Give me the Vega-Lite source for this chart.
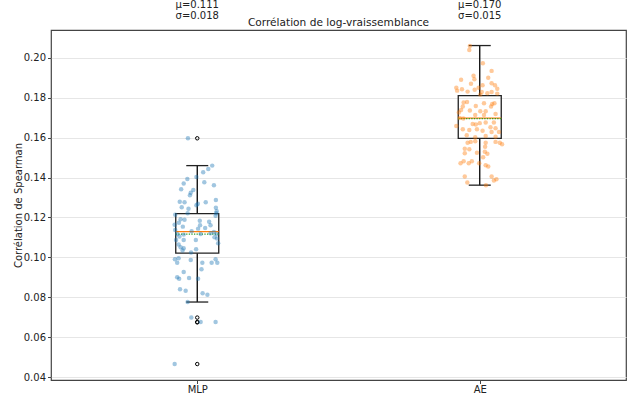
{
  "$schema": "https://vega.github.io/schema/vega-lite/v6.json",
  "width": 575,
  "height": 350,
  "autosize": "none",
  "padding": {"left": 51, "top": 30, "right": 14, "bottom": 16},
  "background": "white",
  "config": {
    "font": "DejaVu Sans",
    "view": {"stroke": "#444", "strokeWidth": 1.2},
    "axis": {
      "labelFont": "DejaVu Sans", "labelFontSize": 10, "labelColor": "#222",
      "titleFont": "DejaVu Sans", "titleFontSize": 10, "titleFontWeight": "normal", "titleColor": "#222",
      "domain": false, "tickColor": "#444", "tickSize": 3.5, "labelPadding": 2,
      "gridColor": "#e6e6e6", "gridWidth": 1
    }
  },
  "title": {"text": "Corrélation de log-vraissemblance", "fontSize": 10.6, "fontWeight": "normal", "font": "DejaVu Sans", "color": "#222", "offset": 2, "dy": 31},
  "datasets": {
    "points": [
      {"group": "MLP", "pos": 0.967, "value": 0.1597},
      {"group": "MLP", "pos": 1.053, "value": 0.1460},
      {"group": "MLP", "pos": 1.039, "value": 0.1443},
      {"group": "MLP", "pos": 1.021, "value": 0.1427},
      {"group": "MLP", "pos": 0.965, "value": 0.1393},
      {"group": "MLP", "pos": 0.997, "value": 0.1403},
      {"group": "MLP", "pos": 1.025, "value": 0.1377},
      {"group": "MLP", "pos": 0.952, "value": 0.1370},
      {"group": "MLP", "pos": 1.059, "value": 0.1362},
      {"group": "MLP", "pos": 0.943, "value": 0.1342},
      {"group": "MLP", "pos": 0.986, "value": 0.1338},
      {"group": "MLP", "pos": 0.977, "value": 0.1324},
      {"group": "MLP", "pos": 0.974, "value": 0.1311},
      {"group": "MLP", "pos": 0.938, "value": 0.1279},
      {"group": "MLP", "pos": 0.955, "value": 0.1276},
      {"group": "MLP", "pos": 1.030, "value": 0.1276},
      {"group": "MLP", "pos": 1.066, "value": 0.1288},
      {"group": "MLP", "pos": 1.002, "value": 0.1269},
      {"group": "MLP", "pos": 0.997, "value": 0.1261},
      {"group": "MLP", "pos": 0.945, "value": 0.1251},
      {"group": "MLP", "pos": 0.969, "value": 0.1244},
      {"group": "MLP", "pos": 1.066, "value": 0.1249},
      {"group": "MLP", "pos": 1.069, "value": 0.1231},
      {"group": "MLP", "pos": 0.922, "value": 0.1214},
      {"group": "MLP", "pos": 0.966, "value": 0.1221},
      {"group": "MLP", "pos": 1.067, "value": 0.1221},
      {"group": "MLP", "pos": 1.065, "value": 0.1208},
      {"group": "MLP", "pos": 0.941, "value": 0.1191},
      {"group": "MLP", "pos": 0.955, "value": 0.1188},
      {"group": "MLP", "pos": 0.935, "value": 0.1174},
      {"group": "MLP", "pos": 1.009, "value": 0.1184},
      {"group": "MLP", "pos": 1.042, "value": 0.1178},
      {"group": "MLP", "pos": 0.920, "value": 0.1164},
      {"group": "MLP", "pos": 1.010, "value": 0.1161},
      {"group": "MLP", "pos": 1.047, "value": 0.1161},
      {"group": "MLP", "pos": 0.949, "value": 0.1154},
      {"group": "MLP", "pos": 0.922, "value": 0.1137},
      {"group": "MLP", "pos": 1.003, "value": 0.1144},
      {"group": "MLP", "pos": 1.028, "value": 0.1147},
      {"group": "MLP", "pos": 0.980, "value": 0.1131},
      {"group": "MLP", "pos": 1.059, "value": 0.1127},
      {"group": "MLP", "pos": 0.929, "value": 0.1117},
      {"group": "MLP", "pos": 1.012, "value": 0.1117},
      {"group": "MLP", "pos": 1.047, "value": 0.1121},
      {"group": "MLP", "pos": 1.068, "value": 0.1117},
      {"group": "MLP", "pos": 0.952, "value": 0.1114},
      {"group": "MLP", "pos": 0.937, "value": 0.1104},
      {"group": "MLP", "pos": 1.061, "value": 0.1101},
      {"group": "MLP", "pos": 0.925, "value": 0.1087},
      {"group": "MLP", "pos": 0.952, "value": 0.1087},
      {"group": "MLP", "pos": 0.995, "value": 0.1087},
      {"group": "MLP", "pos": 1.070, "value": 0.1094},
      {"group": "MLP", "pos": 0.934, "value": 0.1064},
      {"group": "MLP", "pos": 0.941, "value": 0.1051},
      {"group": "MLP", "pos": 1.074, "value": 0.1071},
      {"group": "MLP", "pos": 0.952, "value": 0.1046},
      {"group": "MLP", "pos": 0.996, "value": 0.1041},
      {"group": "MLP", "pos": 0.948, "value": 0.1034},
      {"group": "MLP", "pos": 0.978, "value": 0.1024},
      {"group": "MLP", "pos": 0.921, "value": 0.0990},
      {"group": "MLP", "pos": 0.934, "value": 0.0995},
      {"group": "MLP", "pos": 0.929, "value": 0.0973},
      {"group": "MLP", "pos": 0.977, "value": 0.0987},
      {"group": "MLP", "pos": 1.018, "value": 0.0973},
      {"group": "MLP", "pos": 1.051, "value": 0.0973},
      {"group": "MLP", "pos": 1.065, "value": 0.0990},
      {"group": "MLP", "pos": 1.071, "value": 0.0973},
      {"group": "MLP", "pos": 0.952, "value": 0.0927},
      {"group": "MLP", "pos": 1.015, "value": 0.0940},
      {"group": "MLP", "pos": 0.929, "value": 0.0900},
      {"group": "MLP", "pos": 0.936, "value": 0.0893},
      {"group": "MLP", "pos": 0.971, "value": 0.0897},
      {"group": "MLP", "pos": 1.003, "value": 0.0893},
      {"group": "MLP", "pos": 0.939, "value": 0.0840},
      {"group": "MLP", "pos": 0.959, "value": 0.0833},
      {"group": "MLP", "pos": 1.019, "value": 0.0820},
      {"group": "MLP", "pos": 1.036, "value": 0.0813},
      {"group": "MLP", "pos": 0.966, "value": 0.0776},
      {"group": "MLP", "pos": 0.979, "value": 0.0698},
      {"group": "MLP", "pos": 1.012, "value": 0.0676},
      {"group": "MLP", "pos": 1.065, "value": 0.0676},
      {"group": "MLP", "pos": 0.920, "value": 0.0465},
      {"group": "AE", "pos": 1.965, "value": 0.2060},
      {"group": "AE", "pos": 1.963, "value": 0.2040},
      {"group": "AE", "pos": 2.011, "value": 0.1973},
      {"group": "AE", "pos": 2.042, "value": 0.1935},
      {"group": "AE", "pos": 1.978, "value": 0.1911},
      {"group": "AE", "pos": 1.934, "value": 0.1890},
      {"group": "AE", "pos": 2.030, "value": 0.1901},
      {"group": "AE", "pos": 1.981, "value": 0.1893},
      {"group": "AE", "pos": 1.969, "value": 0.1870},
      {"group": "AE", "pos": 2.010, "value": 0.1863},
      {"group": "AE", "pos": 2.042, "value": 0.1873},
      {"group": "AE", "pos": 1.917, "value": 0.1851},
      {"group": "AE", "pos": 1.937, "value": 0.1843},
      {"group": "AE", "pos": 1.996, "value": 0.1850},
      {"group": "AE", "pos": 2.054, "value": 0.1863},
      {"group": "AE", "pos": 2.062, "value": 0.1845},
      {"group": "AE", "pos": 1.920, "value": 0.1836},
      {"group": "AE", "pos": 1.957, "value": 0.1831},
      {"group": "AE", "pos": 1.982, "value": 0.1840},
      {"group": "AE", "pos": 2.007, "value": 0.1829},
      {"group": "AE", "pos": 2.042, "value": 0.1829},
      {"group": "AE", "pos": 2.027, "value": 0.1823},
      {"group": "AE", "pos": 2.002, "value": 0.1816},
      {"group": "AE", "pos": 2.062, "value": 0.1821},
      {"group": "AE", "pos": 1.943, "value": 0.1776},
      {"group": "AE", "pos": 1.955, "value": 0.1779},
      {"group": "AE", "pos": 1.940, "value": 0.1756},
      {"group": "AE", "pos": 1.986, "value": 0.1759},
      {"group": "AE", "pos": 2.015, "value": 0.1773},
      {"group": "AE", "pos": 2.044, "value": 0.1769},
      {"group": "AE", "pos": 2.052, "value": 0.1773},
      {"group": "AE", "pos": 1.934, "value": 0.1739},
      {"group": "AE", "pos": 1.965, "value": 0.1736},
      {"group": "AE", "pos": 2.040, "value": 0.1756},
      {"group": "AE", "pos": 1.926, "value": 0.1726},
      {"group": "AE", "pos": 2.002, "value": 0.1733},
      {"group": "AE", "pos": 2.021, "value": 0.1733},
      {"group": "AE", "pos": 1.984, "value": 0.1714},
      {"group": "AE", "pos": 2.015, "value": 0.1714},
      {"group": "AE", "pos": 2.056, "value": 0.1719},
      {"group": "AE", "pos": 1.929, "value": 0.1699},
      {"group": "AE", "pos": 1.942, "value": 0.1696},
      {"group": "AE", "pos": 1.975, "value": 0.1669},
      {"group": "AE", "pos": 1.986, "value": 0.1666},
      {"group": "AE", "pos": 2.021, "value": 0.1676},
      {"group": "AE", "pos": 2.050, "value": 0.1676},
      {"group": "AE", "pos": 1.917, "value": 0.1659},
      {"group": "AE", "pos": 2.000, "value": 0.1673},
      {"group": "AE", "pos": 2.038, "value": 0.1652},
      {"group": "AE", "pos": 2.056, "value": 0.1647},
      {"group": "AE", "pos": 1.963, "value": 0.1639},
      {"group": "AE", "pos": 1.940, "value": 0.1642},
      {"group": "AE", "pos": 1.990, "value": 0.1642},
      {"group": "AE", "pos": 2.010, "value": 0.1635},
      {"group": "AE", "pos": 2.042, "value": 0.1629},
      {"group": "AE", "pos": 2.068, "value": 0.1629},
      {"group": "AE", "pos": 1.954, "value": 0.1612},
      {"group": "AE", "pos": 1.984, "value": 0.1602},
      {"group": "AE", "pos": 2.021, "value": 0.1609},
      {"group": "AE", "pos": 2.056, "value": 0.1605},
      {"group": "AE", "pos": 1.957, "value": 0.1575},
      {"group": "AE", "pos": 1.968, "value": 0.1579},
      {"group": "AE", "pos": 1.984, "value": 0.1582},
      {"group": "AE", "pos": 2.021, "value": 0.1575},
      {"group": "AE", "pos": 2.056, "value": 0.1579},
      {"group": "AE", "pos": 2.079, "value": 0.1567},
      {"group": "AE", "pos": 2.071, "value": 0.1575},
      {"group": "AE", "pos": 2.019, "value": 0.1555},
      {"group": "AE", "pos": 1.947, "value": 0.1545},
      {"group": "AE", "pos": 1.963, "value": 0.1542},
      {"group": "AE", "pos": 1.947, "value": 0.1522},
      {"group": "AE", "pos": 1.990, "value": 0.1525},
      {"group": "AE", "pos": 2.018, "value": 0.1529},
      {"group": "AE", "pos": 2.027, "value": 0.1519},
      {"group": "AE", "pos": 2.012, "value": 0.1502},
      {"group": "AE", "pos": 1.972, "value": 0.1482},
      {"group": "AE", "pos": 1.961, "value": 0.1472},
      {"group": "AE", "pos": 1.998, "value": 0.1472},
      {"group": "AE", "pos": 2.021, "value": 0.1462},
      {"group": "AE", "pos": 2.030, "value": 0.1455},
      {"group": "AE", "pos": 1.932, "value": 0.1472},
      {"group": "AE", "pos": 1.943, "value": 0.1482},
      {"group": "AE", "pos": 1.947, "value": 0.1405},
      {"group": "AE", "pos": 2.042, "value": 0.1405},
      {"group": "AE", "pos": 2.050, "value": 0.1385},
      {"group": "AE", "pos": 2.059, "value": 0.1392},
      {"group": "AE", "pos": 1.956, "value": 0.1375},
      {"group": "AE", "pos": 2.022, "value": 0.1362}
    ],
    "boxes": [
      {"group": "MLP", "pos": 1, "lower": 0.0776, "q1": 0.1021, "median": 0.1129, "mean": 0.1116, "q3": 0.1219, "upper": 0.1460, "label": "μ=0.111\nσ=0.018"},
      {"group": "AE", "pos": 2, "lower": 0.1362, "q1": 0.1597, "median": 0.1698, "mean": 0.1696, "q3": 0.1811, "upper": 0.2062, "label": "μ=0.170\nσ=0.015"}
    ],
    "outliers": [
      {"group": "MLP", "pos": 1, "value": 0.1597},
      {"group": "MLP", "pos": 1, "value": 0.0698},
      {"group": "MLP", "pos": 1, "value": 0.0676},
      {"group": "MLP", "pos": 1, "value": 0.0674},
      {"group": "MLP", "pos": 1, "value": 0.0465}
    ]
  },
  "encoding": {
    "x": {"type": "quantitative", "scale": {"domain": [0.5, 2.5], "nice": false, "zero": false},
          "axis": {"values": [1, 2], "labelExpr": "datum.value == 1 ? 'MLP' : 'AE'", "grid": false, "title": null, "labelPadding": 1}}
  },
  "layer": [
    {
      "data": {"name": "boxes"},
      "mark": {"type": "rule", "color": "black", "strokeWidth": 1.3},
      "encoding": {
        "x": {"field": "pos", "type": "quantitative"},
        "y": {"field": "q3", "type": "quantitative", "scale": {"domain": [0.0385, 0.214], "nice": false, "zero": false},
              "axis": {"values": [0.04, 0.06, 0.08, 0.10, 0.12, 0.14, 0.16, 0.18, 0.20], "format": ".2f", "title": "Corrélation de Spearman", "grid": true, "titlePadding": 0}},
        "y2": {"field": "upper"}
      }
    },
    {
      "data": {"name": "boxes"},
      "mark": {"type": "rule", "color": "black", "strokeWidth": 1.3},
      "encoding": {
        "x": {"field": "pos", "type": "quantitative"},
        "y": {"field": "q1", "type": "quantitative"},
        "y2": {"field": "lower"}
      }
    },
    {
      "data": {"name": "boxes"},
      "mark": {"type": "rule", "color": "#222", "strokeWidth": 1.3, "xOffset": -11, "x2Offset": 11},
      "encoding": {
        "x": {"field": "pos", "type": "quantitative"},
        "x2": {"field": "pos"},
        "y": {"field": "upper", "type": "quantitative"}
      }
    },
    {
      "data": {"name": "boxes"},
      "mark": {"type": "rule", "color": "#222", "strokeWidth": 1.3, "xOffset": -11, "x2Offset": 11},
      "encoding": {
        "x": {"field": "pos", "type": "quantitative"},
        "x2": {"field": "pos"},
        "y": {"field": "lower", "type": "quantitative"}
      }
    },
    {
      "data": {"name": "boxes"},
      "mark": {"type": "bar", "size": 43, "fill": "white", "fillOpacity": 0, "stroke": "#222", "strokeWidth": 1.3},
      "encoding": {
        "x": {"field": "pos", "type": "quantitative"},
        "y": {"field": "q1", "type": "quantitative"},
        "y2": {"field": "q3"}
      }
    },
    {
      "data": {"name": "boxes"},
      "mark": {"type": "rule", "color": "#ff7f0e", "strokeWidth": 1.3, "xOffset": -21.5, "x2Offset": 21.5},
      "encoding": {
        "x": {"field": "pos", "type": "quantitative"},
        "x2": {"field": "pos"},
        "y": {"field": "median", "type": "quantitative"}
      }
    },
    {
      "data": {"name": "boxes"},
      "mark": {"type": "rule", "color": "#2ca02c", "strokeWidth": 1.3, "strokeDash": [1.3, 1.3], "xOffset": -21.5, "x2Offset": 21.5},
      "encoding": {
        "x": {"field": "pos", "type": "quantitative"},
        "x2": {"field": "pos"},
        "y": {"field": "mean", "type": "quantitative"}
      }
    },
    {
      "data": {"name": "outliers"},
      "mark": {"type": "point", "shape": "circle", "filled": false, "stroke": "black", "strokeWidth": 1, "size": 12, "opacity": 1},
      "encoding": {
        "x": {"field": "pos", "type": "quantitative"},
        "y": {"field": "value", "type": "quantitative"}
      }
    },
    {
      "data": {"name": "points"},
      "mark": {"type": "circle", "size": 20, "opacity": 0.42},
      "encoding": {
        "x": {"field": "pos", "type": "quantitative"},
        "y": {"field": "value", "type": "quantitative"},
        "color": {"field": "group", "type": "nominal", "scale": {"domain": ["MLP", "AE"], "range": ["#1f77b4", "#ff7f0e"]}, "legend": null}
      }
    },
    {
      "data": {"name": "boxes"},
      "mark": {"type": "text", "lineBreak": "\n", "lineHeight": 11, "baseline": "bottom", "align": "center", "dy": -20, "fontSize": 10, "font": "DejaVu Sans", "color": "#222"},
      "encoding": {
        "x": {"field": "pos", "type": "quantitative"},
        "y": {"datum": 0.214, "type": "quantitative"},
        "text": {"field": "label"}
      }
    }
  ]
}
